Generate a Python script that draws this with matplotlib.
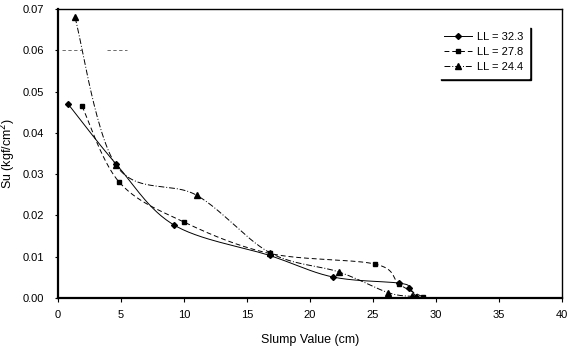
import numpy as np
import matplotlib
matplotlib.use("Agg")
import matplotlib.pyplot as plt
from matplotlib.ticker import FormatStrFormatter, MultipleLocator

plt.rcParams['font.family'] = ['Liberation Sans', 'DejaVu Sans']

# Undrained shear strength vs. slump for three liquid limits
ll_labels = ["LL = 32.3", "LL = 27.8", "LL = 24.4"]

slump_323 = [0.8, 4.6, 9.2, 16.8, 21.8, 27.1, 27.9, 28.4]
su_323 = [0.047, 0.0325, 0.0177, 0.0103, 0.0051, 0.0036, 0.0024, 0.0003]

slump_278 = [1.9, 4.85, 10.0, 16.8, 25.2, 27.1, 29.0]
su_278 = [0.0465, 0.0281, 0.0184, 0.0108, 0.0082, 0.0033, 0.0002]

slump_244 = [1.35, 4.6, 11.0, 16.8, 22.3, 26.2, 28.1]
su_244 = [0.068, 0.0322, 0.0249, 0.0110, 0.0063, 0.0013, 0.0004]

# Faint remnant of a gridline at 0.06
grid_y = 0.06
grid_x_start = [0.3, 3.9]
grid_x_end = [1.9, 5.5]

x_ticks = [0, 5, 10, 15, 20, 25, 30, 35, 40]


def smooth(xs, ys, n=30):
    """Bezier smoothing through points (Catmull-Rom style control points)."""
    p = np.column_stack([xs, ys]).astype(float)
    pts = []
    for i in range(len(p) - 1):
        p0 = p[i - 1] if i > 0 else p[i]
        p1 = p[i]
        p2 = p[i + 1]
        p3 = p[i + 2] if i + 2 < len(p) else p[i + 1]
        c1 = p1 + (p2 - p0) / 6.0
        c2 = p2 - (p3 - p1) / 6.0
        t = np.linspace(0, 1, n)[:, None]
        seg = ((1 - t) ** 3) * p1 + 3 * ((1 - t) ** 2) * t * c1 + 3 * (1 - t) * t ** 2 * c2 + t ** 3 * p2
        pts.append(seg if i == 0 else seg[1:])
    s = np.vstack(pts)
    return s[:, 0], s[:, 1]


fig = plt.figure(figsize=(5.7, 3.51), dpi=100)
ax = fig.add_axes([0.1018, 0.151, 0.884, 0.823])

series = [
    (slump_323, su_323, '-', 'D', 3.0),
    (slump_278, su_278, (0, (5, 3)), 's', 3.0),
    (slump_244, su_244, (0, (6, 2, 1, 2)), '^', 4.0),
]

for (xs, ys, ls, mk, ms), lab in zip(series, ll_labels):
    sx, sy = smooth(xs, ys)
    ax.plot(sx, sy, color='black', linestyle=ls, linewidth=0.7)
    ax.plot(xs, ys, linestyle='none', marker=mk, markersize=ms, color='black')
    ax.plot([], [], color='black', linestyle=ls, linewidth=0.7,
            marker=mk, markersize=ms, label=lab)

ax.hlines([grid_y] * len(grid_x_start), grid_x_start, grid_x_end,
          colors='#555555', linewidth=0.6, linestyles=(0, (4, 3)))

ax.set_xlim(0, 40)
ax.set_ylim(0, 0.07)
ax.set_xticks(x_ticks)
ax.yaxis.set_major_locator(MultipleLocator(0.01))
ax.yaxis.set_major_formatter(FormatStrFormatter('%.2f'))
ax.tick_params(axis='both', labelsize=8, width=0.8, direction='out')
ax.tick_params(axis='x', length=3, pad=6)
ax.tick_params(axis='y', length=2, pad=8)

for side in ['left', 'bottom']:
    ax.spines[side].set_linewidth(1.6)
for side in ['top', 'right']:
    ax.spines[side].set_linewidth(1.0)

ax.set_xlabel('Slump Value (cm)', fontsize=9, labelpad=10)
ax.set_ylabel('Su (kgf/cm$^2$)', fontsize=9, labelpad=3)

leg = ax.legend(loc='lower right', bbox_to_anchor=(0.945, 0.744), fontsize=8,
                frameon=True, fancybox=False, framealpha=1, edgecolor='white',
                shadow={'color': 'black', 'alpha': 1, 'ox': 1.5, 'oy': -1.5},
                handlelength=2.5, borderpad=0.5, labelspacing=0.45,
                handletextpad=0.4)

fig.savefig('out.png', dpi=100)
